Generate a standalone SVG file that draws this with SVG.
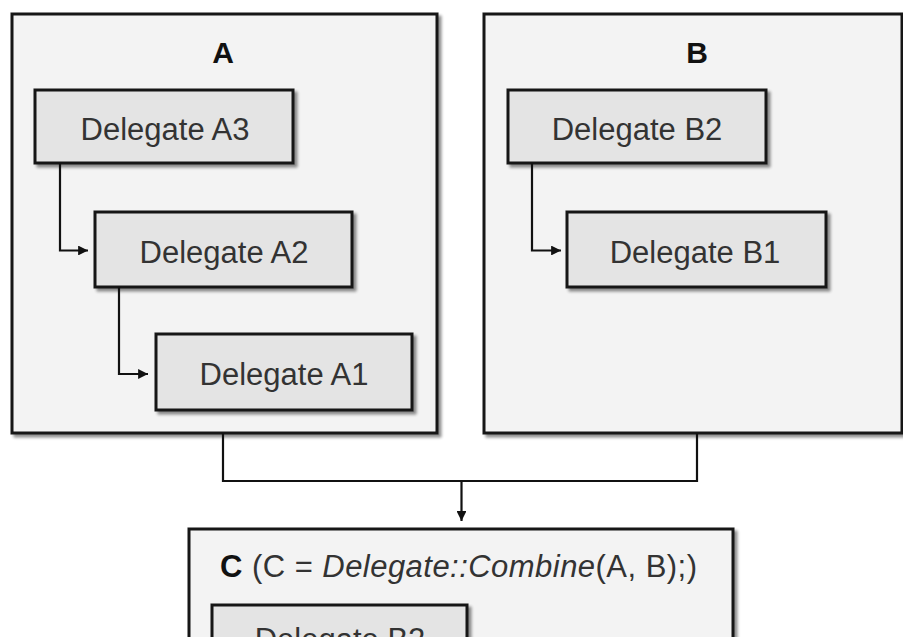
<svg xmlns="http://www.w3.org/2000/svg" width="903" height="637" viewBox="0 0 903 637">
  <defs>
    <filter id="shadow" x="-5%" y="-5%" width="115%" height="115%">
      <feGaussianBlur in="SourceAlpha" stdDeviation="1.6"/>
      <feOffset dx="3" dy="3" result="b"/>
      <feComponentTransfer><feFuncA type="linear" slope="0.45"/></feComponentTransfer>
      <feMerge><feMergeNode/><feMergeNode in="SourceGraphic"/></feMerge>
    </filter>
    <marker id="arrow" viewBox="0 0 10 10" refX="10" refY="5" markerWidth="4.5" markerHeight="4.5" orient="auto" markerUnits="strokeWidth">
      <path d="M0,0 L10,5 L0,10 z" fill="#111"/>
    </marker>
  </defs>
  <style>
    .outer { fill: #f3f3f3; stroke: #141414; stroke-width: 3; filter: url(#shadow); }
    .inner { fill: #e4e4e4; stroke: #141414; stroke-width: 3; filter: url(#shadow); }
    .title { font-family: "Liberation Sans", Arial, sans-serif; font-weight: bold; font-size: 30px; fill: #111; text-anchor: middle; }
    .label { font-family: "Liberation Sans", Arial, sans-serif; font-size: 31px; fill: #333; text-anchor: middle; }
    .ctitle { font-family: "Liberation Sans", Arial, sans-serif; font-size: 31px; fill: #333; }
    .wire { fill: none; stroke: #111; stroke-width: 2.2; }
  </style>

  <rect width="903" height="637" fill="#ffffff"/>

  <!-- Container A -->
  <g id="A">
    <rect class="outer" x="12" y="14" width="425" height="419"/>
    <text class="title" x="223" y="63">A</text>
  </g>

  <!-- Container B -->
  <g id="B">
    <rect class="outer" x="484" y="14" width="418" height="419"/>
    <text class="title" x="697" y="63">B</text>
  </g>

  <!-- Container C -->
  <g id="C">
    <rect class="outer" x="189" y="529" width="544" height="130"/>
    <text class="ctitle" x="220" y="577" textLength="477" lengthAdjust="spacing"><tspan font-weight="bold" fill="#111">C</tspan> (C = <tspan font-style="italic">Delegate::Combine</tspan>(A, B);)</text>
  </g>

  <g id="delegateA3">
    <rect class="inner" x="35" y="90" width="258" height="73"/>
    <text class="label" x="165" y="140">Delegate A3</text>
  </g>
  <g id="delegateA2">
    <rect class="inner" x="95" y="212" width="257" height="75"/>
    <text class="label" x="224" y="263">Delegate A2</text>
  </g>
  <g id="delegateA1">
    <rect class="inner" x="156" y="334" width="256" height="76"/>
    <text class="label" x="284" y="385">Delegate A1</text>
  </g>
  <g id="delegateB2">
    <rect class="inner" x="508" y="90" width="258" height="73"/>
    <text class="label" x="637" y="140">Delegate B2</text>
  </g>
  <g id="delegateB1">
    <rect class="inner" x="567" y="212" width="259" height="75"/>
    <text class="label" x="695" y="263">Delegate B1</text>
  </g>
  <g id="delegateC-B2">
    <rect class="inner" x="212" y="605" width="255" height="75"/>
    <text class="label" x="340" y="650">Delegate B2</text>
  </g>

  <!-- Connectors -->
  <g id="connectors">
    <path class="wire" d="M60,163 V250.5 H88" marker-end="url(#arrow)"/>
    <path class="wire" d="M119,287 V374 H148" marker-end="url(#arrow)"/>
    <path class="wire" d="M532,163 V250.5 H561" marker-end="url(#arrow)"/>
    <path class="wire" d="M223,433 V481 H697 V433"/>
    <path class="wire" d="M461.5,481 V521" marker-end="url(#arrow)"/>
  </g>
</svg>
